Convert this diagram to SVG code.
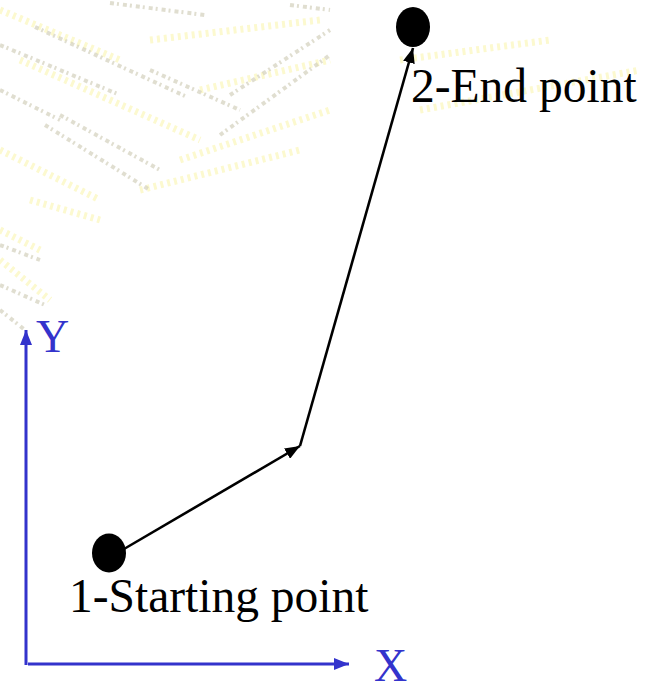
<svg xmlns="http://www.w3.org/2000/svg" width="655" height="684" viewBox="0 0 655 684">
  <style>
    .lbl { font-family: "Liberation Serif", "Times New Roman", serif; font-size: 47.5px; fill: #000; }
    .axl { font-family: "Liberation Serif", "Times New Roman", serif; font-size: 46px; fill: #3333cc; }
    .path { stroke: #000; stroke-width: 2.6; fill: none; }
    .axis { stroke: #3333cc; stroke-width: 3; fill: none; }
    .tex { fill: none; stroke: #d3d0bc; stroke-width: 4; stroke-dasharray: 4 3 2 4; opacity: 0.7; }
    .texy { fill: none; stroke: #fcf9cf; stroke-width: 7; stroke-dasharray: 3 4; }
  </style>
  <defs>
    <marker id="ah" markerWidth="16" markerHeight="12" refX="15" refY="6" orient="auto" markerUnits="userSpaceOnUse">
      <path d="M0,0 L15,6 L0,12 Z" fill="#000"/>
    </marker>
    <marker id="ahb" markerWidth="16" markerHeight="12" refX="15" refY="6" orient="auto" markerUnits="userSpaceOnUse">
      <path d="M0,0 L15,6 L0,12 Z" fill="#3333cc"/>
    </marker>
  </defs>
  <rect width="655" height="684" fill="#fff"/>
  <g id="background-texture">
    <path class="texy" d="M0,10 L120,60 M20,60 L200,140 M0,150 L100,200 M150,40 L320,20 M200,90 L330,60 M180,160 L330,110 M140,190 L300,150 M30,200 L100,220 M400,60 L550,40 M420,110 L640,70 M0,260 L50,300 M0,230 L40,250"/>
    <path class="tex" d="M35,27 L187,97 M0,45 L120,95 M60,115 L160,170 M45,125 L150,190 M0,90 L60,120 M110,3 L205,15 M220,135 L330,55 M230,95 L330,30 M150,70 L240,110 M0,245 L40,260 M0,285 L45,305 M0,310 L25,330 M290,5 L330,10"/>
  </g>
  <g id="connectors">
    <line class="path" x1="124" y1="549" x2="300" y2="446" marker-end="url(#ah)"/>
    <line class="path" x1="300" y1="446" x2="413" y2="48" marker-end="url(#ah)"/>
  </g>
  <g id="axes">
    <line class="axis" x1="26" y1="665" x2="26" y2="330" marker-end="url(#ahb)"/>
    <line class="axis" x1="28" y1="664" x2="349" y2="664" marker-end="url(#ahb)"/>
    <text class="axl" x="36" y="352">Y</text>
    <text class="axl" x="374" y="681">X</text>
  </g>
  <g id="start">
    <ellipse cx="109" cy="553" rx="17" ry="19.5" fill="#000"/>
    <text class="lbl" x="69" y="612">1-Starting point</text>
  </g>
  <g id="end">
    <ellipse cx="413" cy="27" rx="17" ry="20" fill="#000"/>
    <text class="lbl" x="411" y="102">2-End point</text>
  </g>
</svg>
